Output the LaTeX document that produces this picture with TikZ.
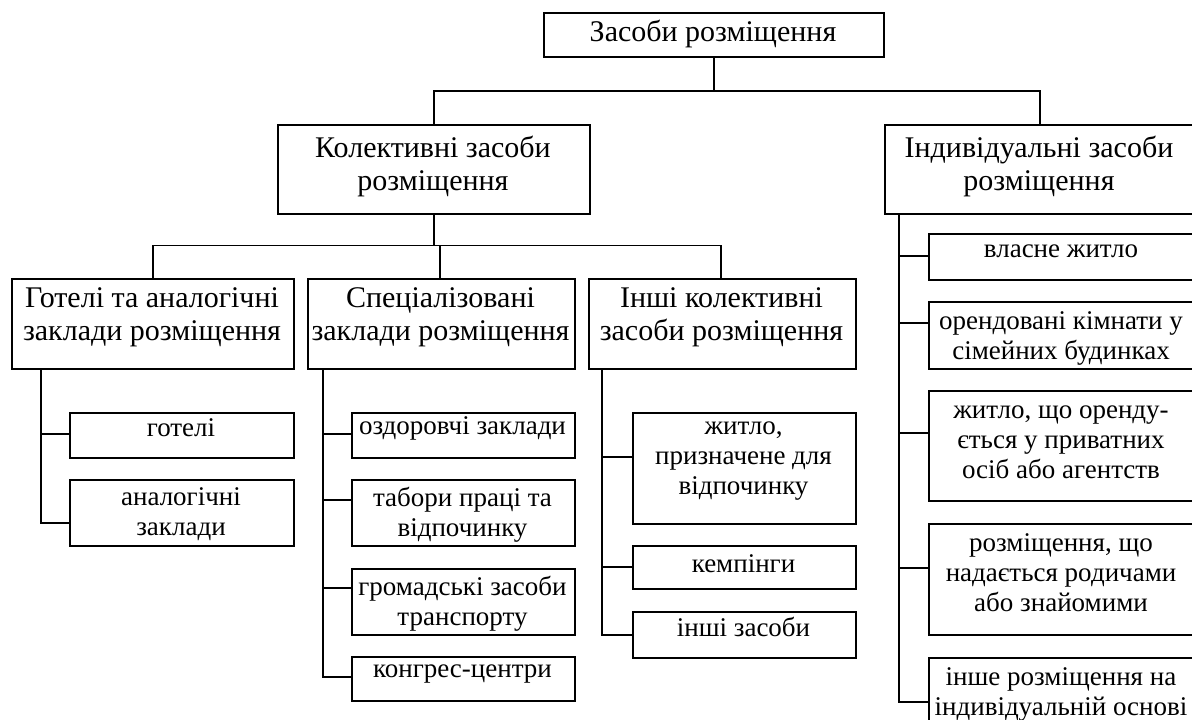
\documentclass[tikz,border=0pt]{standalone}
\usepackage{fontspec}
\setmainfont{Liberation Serif}
\tikzset{
  bx/.style={draw, line width=1.8pt, inner sep=0pt, anchor=north west},
  tx/.style={align=center, inner sep=0pt, font=\fontsize{27}{30}\selectfont},
  hx/.style={align=center, inner sep=0pt, font=\fontsize{30}{33}\selectfont},
  ln/.style={line width=1.8pt},
}
\newcommand\leafbox[7]{%
  \node[bx, minimum width={(#4-#2)*1pt}, minimum height={(#5-#3)*1pt}] (#1) at (#2,#3) {};
  \node[tx] (#1-t) at ({(#2+#4)/2},#6) {#7};
}
\newcommand\headbox[7]{%
  \node[bx, minimum width={(#4-#2)*1pt}, minimum height={(#5-#3)*1pt}] (#1) at (#2,#3) {};
  \node[hx] (#1-t) at ({(#2+#4)/2},#6) {#7};
}
\begin{document}
\begin{tikzpicture}[x=1pt,y=-1pt]
\useasboundingbox (0,0) rectangle (1192,720);
\clip (0,0) rectangle (1192,720);
% level 0 and 1
\headbox{top}{543}{12}{883}{56}{34}{Засоби розміщення}
\headbox{coll}{277}{124}{589}{213}{166}{Колективні засоби\\розміщення}
\headbox{ind}{884}{124}{1194}{213}{166}{Індивідуальні засоби\\розміщення}
% level 2
\headbox{hot}{11}{278}{293}{368}{317}{Готелі та аналогічні\\заклади розміщення}
\headbox{spc}{307}{278}{574}{368}{317}{Спеціалізовані\\заклади розміщення}
\headbox{oth}{588}{278}{855}{368}{317}{Інші колективні\\засоби розміщення}
% hotels
\leafbox{got}{69}{412}{293}{457}{428}{готелі}
\leafbox{ana}{69}{479}{293}{545}{514}{аналогічні\\заклади}
% special
\leafbox{ozd}{351}{412}{574}{457}{428}{оздоровчі заклади}
\leafbox{tab}{351}{479}{574}{545}{515}{табори праці та\\відпочинку}
\leafbox{grm}{351}{568}{574}{634}{604}{громадські засоби\\транспорту}
\leafbox{kon}{351}{656}{574}{700}{674}{конгрес-центри}
% other
\leafbox{zhy}{632}{412}{855}{523}{461}{житло,\\призначене для\\відпочинку}
\leafbox{kem}{632}{545}{855}{588}{564}{кемпінги}
\leafbox{inz}{632}{611}{855}{657}{627}{інші засоби}
% individual
\leafbox{vla}{928}{233}{1194}{279}{251}{власне житло}
\leafbox{ore}{928}{301}{1194}{368}{338}{орендовані кімнати у\\сімейних будинках}
\leafbox{zho}{928}{390}{1194}{500}{442}{житло, що оренду-\\ється у приватних\\осіб або агентств}
\leafbox{rod}{928}{523}{1194}{634}{573}{розміщення, що\\надається родичами\\або знайомими}
\leafbox{ins}{928}{657}{1194}{735}{694}{інше розміщення на\\індивідуальній основі}
% connector end points
\coordinate (got-c) at (69,434);
\coordinate (ana-c) at (69,523);
\coordinate (ozd-c) at (351,434);
\coordinate (tab-c) at (351,500);
\coordinate (grm-c) at (351,588);
\coordinate (kon-c) at (351,677);
\coordinate (zhy-c) at (632,457);
\coordinate (kem-c) at (632,567);
\coordinate (inz-c) at (632,635);
\coordinate (vla-c) at (928,256);
\coordinate (ore-c) at (928,323);
\coordinate (zho-c) at (928,433);
\coordinate (rod-c) at (928,568);
\coordinate (ins-c) at (928,702);
% level connectors
\draw[ln] (top.south) -- (top.south |- 0,91);
\draw[ln] (coll.north) -- (coll.north |- 0,91) -| (ind.north);
\draw[ln] (coll.south) -- (coll.south |- 0,245.5);
\draw[ln] (hot.north) -- (hot.north |- 0,245.5) -- (721,245.5) -- (oth.north -| 721,0);
\draw[ln] (spc.north -| 440,0) -- (440,245.5);
% hotels spine
\draw[ln] (hot.south -| 41,0) |- (ana-c);
\draw[ln] (got-c) -- (got-c -| 41,0);
% special spine
\draw[ln] (spc.south -| 323,0) |- (kon-c);
\draw[ln] (ozd-c) -- (ozd-c -| 323,0);
\draw[ln] (tab-c) -- (tab-c -| 323,0);
\draw[ln] (grm-c) -- (grm-c -| 323,0);
% other spine
\draw[ln] (oth.south -| 602,0) |- (inz-c);
\draw[ln] (zhy-c) -- (zhy-c -| 602,0);
\draw[ln] (kem-c) -- (kem-c -| 602,0);
% individual spine
\draw[ln] (ind.south -| 899,0) |- (ins-c);
\draw[ln] (vla-c) -- (vla-c -| 899,0);
\draw[ln] (ore-c) -- (ore-c -| 899,0);
\draw[ln] (zho-c) -- (zho-c -| 899,0);
\draw[ln] (rod-c) -- (rod-c -| 899,0);
\end{tikzpicture}
\end{document}
